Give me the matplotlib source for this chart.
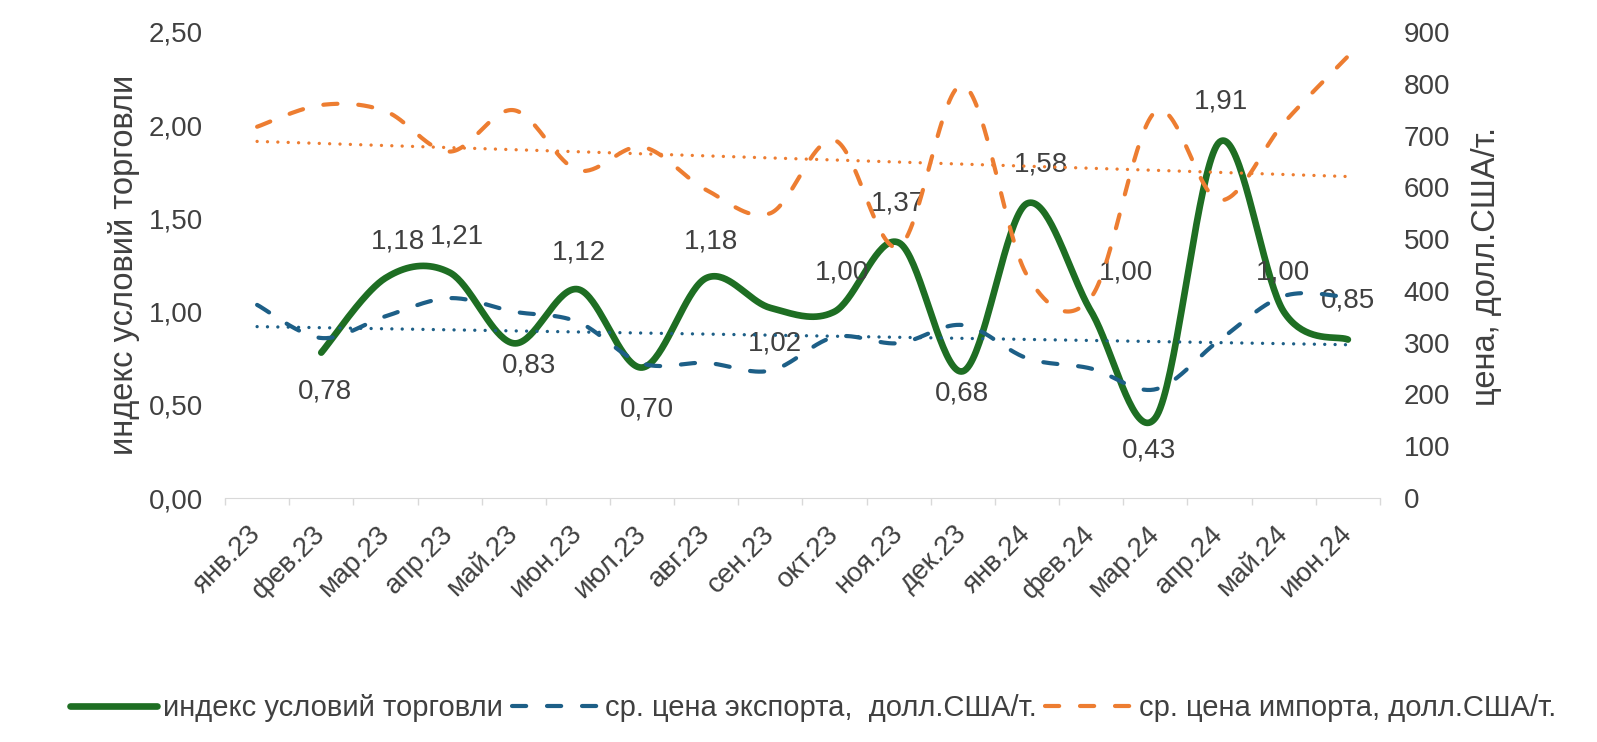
import numpy as np
import matplotlib
matplotlib.use("Agg")
import matplotlib.pyplot as plt

plt.rcParams['font.family'] = ['Liberation Sans', 'DejaVu Sans']

# data
months = ["янв.23", "фев.23", "мар.23", "апр.23", "май.23", "июн.23", "июл.23", "авг.23",
          "сен.23", "окт.23", "ноя.23", "дек.23", "янв.24", "фев.24", "мар.24", "апр.24",
          "май.24", "июн.24"]
# index starts from фев.23
tot_index = [0.78, 1.18, 1.21, 0.83, 1.12, 0.70, 1.18, 1.02, 1.00, 1.37, 0.68, 1.58,
             1.00, 0.43, 1.91, 1.00, 0.85]
export_price = [373, 309, 351, 386, 360, 340, 260, 261, 246, 311, 299, 334, 270, 250,
                210, 305, 390, 388]
import_price = [717, 759, 747, 669, 749, 633, 678, 595, 550, 691, 485, 797, 430, 388,
                746, 575, 724, 853]

# where Excel put each data label, pixel offset from the point (dx right, dy down)
lab_dx = [4, 13, 7, 15, 1, 5, 5, 5, 7, -1, -1, 14, 35, -6, 1, -1, 0]
lab_dy = [39, -37, -36, 22, -37, 42, -37, 36, -39, -39, 22, -39, -39, 33, -40, -39, -39]

GREEN = '#1e6e23'
BLUE = '#1d5f87'
ORANGE = '#ed7d31'
TXT = '#404040'
FS = 20


def smooth(x, y, n=40):
    # excel-like smoothed line (bezier through the points)
    pts = np.column_stack([x, y]).astype(float)
    ext = np.vstack([pts[0], pts, pts[-1]])
    t = np.linspace(0, 1, n)[:, None]
    out = []
    for k in range(len(pts) - 1):
        p0, p1, p2, p3 = ext[k], ext[k + 1], ext[k + 2], ext[k + 3]
        c1 = p1 + (p2 - p0) / 6
        c2 = p2 - (p3 - p1) / 6
        seg = (1 - t) ** 3 * p1 + 3 * (1 - t) ** 2 * t * c1 + 3 * (1 - t) * t ** 2 * c2 + t ** 3 * p2
        out.append(seg if k == 0 else seg[1:])
    out = np.vstack(out)
    return out[:, 0], out[:, 1]


fig = plt.figure(figsize=(15.97, 7.42), dpi=100)
ax = fig.add_axes([0.1409, 0.3288, 0.7232, 0.6281])
ax2 = ax.twinx()

xi = np.arange(len(months))
xg = xi[len(months) - len(tot_index):]

sx, sy = smooth(xg, tot_index)
l1, = ax.plot(sx, sy, color=GREEN, lw=4.8, solid_capstyle='round',
              label='индекс условий торговли')

for x, v, dx, dy in zip(xg, tot_index, lab_dx, lab_dy):
    ax.annotate(f"{v:.2f}".replace('.', ','), (x, v), xytext=(dx, -dy),
                textcoords='offset pixels', ha='center', va='center',
                fontsize=FS, color=TXT)

dash = (0, (3.4, 5.0))
bx, by = smooth(xi, export_price)
l2, = ax2.plot(bx, by, color=BLUE, lw=3, ls=dash, dash_capstyle='round',
               label='ср. цена экспорта,  долл.США/т.')
ox, oy = smooth(xi, import_price)
l3, = ax2.plot(ox, oy, color=ORANGE, lw=3, ls=dash, dash_capstyle='round',
               label='ср. цена импорта, долл.США/т.')

# linear trends
for ser, col in ((export_price, BLUE), (import_price, ORANGE)):
    k, b = np.polyfit(xi, ser, 1)
    ax2.plot(xi, k * xi + b, color=col, lw=2.4, ls=(0, (0.01, 3.1)),
             dash_capstyle='round')

ax.set_xlim(-0.5, len(months) - 0.5)
ax.set_ylim(0, 2.5)
ax2.set_ylim(0, 900)

ax.set_yticks(np.arange(0, 2.51, 0.5))
ax.set_yticklabels([f"{v:.2f}".replace('.', ',') for v in np.arange(0, 2.51, 0.5)])
ax2.set_yticks(np.arange(0, 901, 100))
ax2.set_yticklabels([str(v) for v in range(0, 901, 100)])

ax.set_xticks(xi)
ax.set_xticklabels(months, rotation=45, ha='right', va='center', rotation_mode='anchor')
ax.set_xticks(np.arange(-0.5, len(months), 1), minor=True)
ax.tick_params(axis='x', which='major', length=0, pad=23, labelsize=FS, labelcolor=TXT)
ax.tick_params(axis='x', which='minor', length=5, color='#d9d9d9', width=1)
ax.tick_params(axis='y', length=0, pad=16, labelsize=FS, labelcolor=TXT)
ax2.tick_params(axis='y', length=0, pad=17, labelsize=FS, labelcolor=TXT)

for a in (ax, ax2):
    for s in ('top', 'left', 'right'):
        a.spines[s].set_visible(False)
    a.spines['bottom'].set_color('#d9d9d9')
ax2.spines['bottom'].set_visible(False)

fig.text(124 / 1597, 1 - 265 / 742, 'индекс условий торговли', rotation=90,
         ha='center', va='center', fontsize=23.5, color=TXT)
fig.text(1487 / 1597, 1 - 266 / 742, 'цена, долл.США/т.', rotation=90,
         ha='center', va='center', fontsize=23.5, color=TXT)

leg = fig.legend([l1, l2, l3], [l1.get_label(), l2.get_label(), l3.get_label()],
                 loc='center', bbox_to_anchor=(0.509, 0.046), ncol=3, frameon=False,
                 fontsize=21, labelcolor=TXT, handlelength=3.0, handletextpad=0.2,
                 columnspacing=0.3)

fig.savefig("out.png", dpi=100)
